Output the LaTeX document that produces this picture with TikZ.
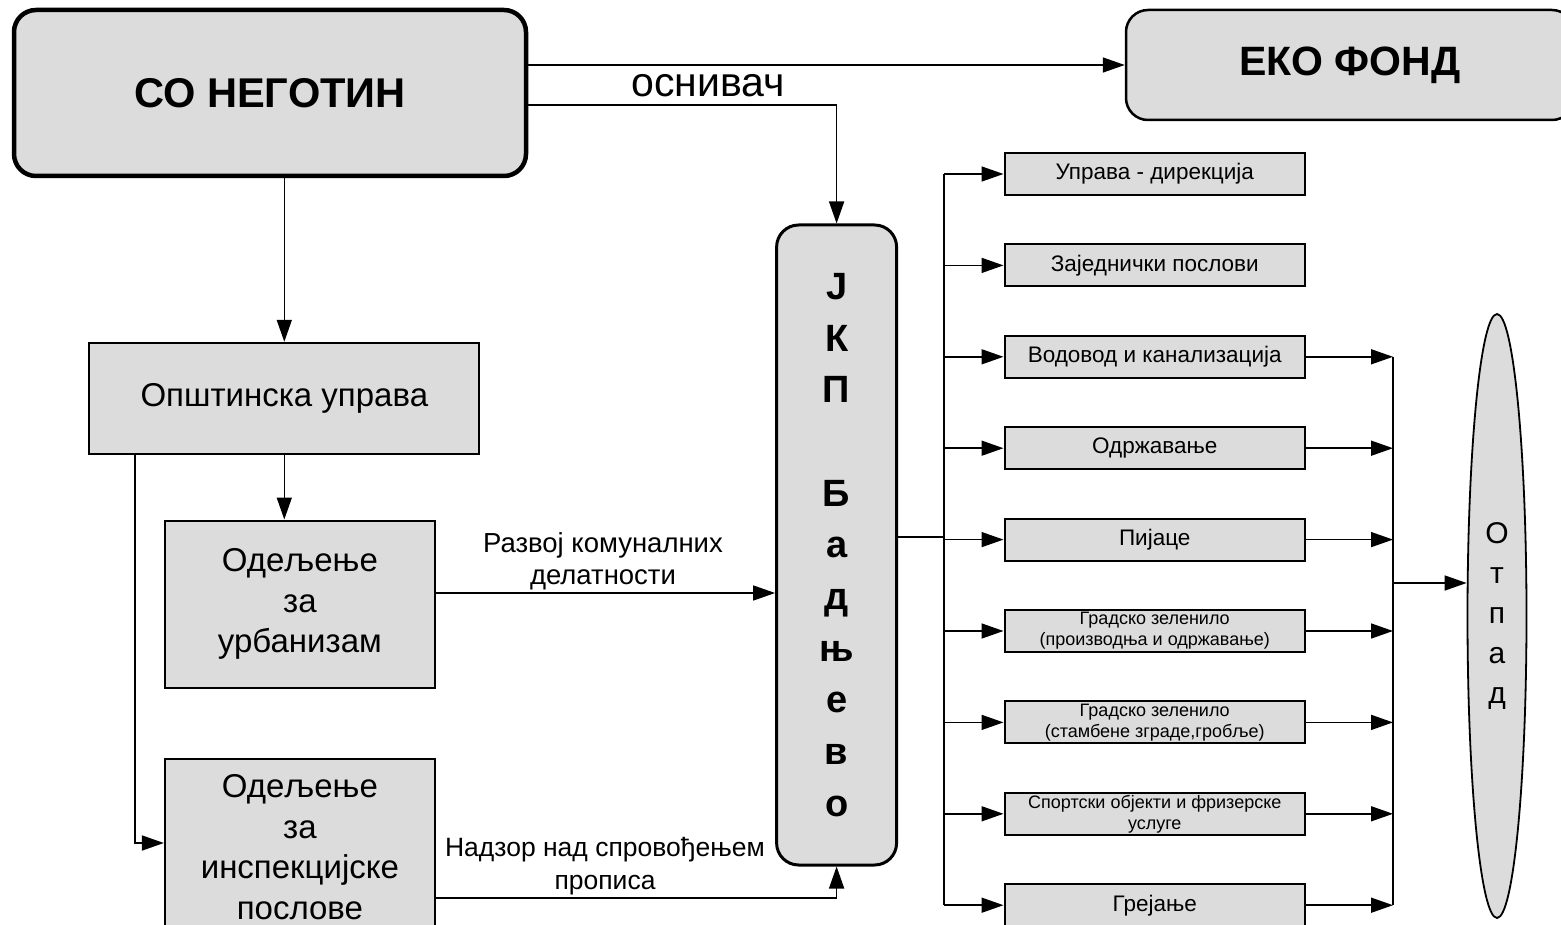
\documentclass[tikz,border=0pt]{standalone}
\usepackage{fontspec}
\setmainfont{Liberation Sans}
\usetikzlibrary{arrows.meta,shapes.geometric}
\definecolor{boxgray}{RGB}{220,220,220}

\begin{document}
\begin{tikzpicture}[x=1pt,y=1pt,yscale=-1,xscale=1,
  box/.style={draw,fill=boxgray,line width=2pt,inner sep=0pt,align=center},
  rbox/.style={box,rounded corners=22pt},
  unit/.style={box,minimum width=300.5pt,minimum height=42pt,font=\fontsize{22.5}{27}\selectfont},
  unitsmall/.style={unit,font=\fontsize{18}{21}\selectfont},
  dept/.style={box,minimum width=270pt,font=\fontsize{33}{40.5}\selectfont},
  label/.style={align=center,inner sep=0pt},
  arr/.style={line width=1.6pt,-{Triangle[length=22pt,width=15pt]}},
  conn/.style={line width=1.6pt}]
\useasboundingbox (0,0) rectangle (1561,925);
\clip (0,0) rectangle (1561,925);

%Shape: Rounded Rect [id:son]
\node (son) [rbox,line width=4.5pt,minimum width=512pt,minimum height=166pt,font=\fontsize{41.6}{50}\selectfont\bfseries] at (270,93) {СО НЕГОТИН};
%Shape: Rounded Rect [id:eko]
\node (eko) [rbox,line width=2.5pt,minimum width=448pt,minimum height=110pt,font=\fontsize{41}{50}\selectfont\bfseries] at (1350,65) {ЕКО ФОНД};
%Shape: Rounded Rect [id:jkp]
\node (jkp) [rbox,line width=3pt,minimum width=120pt,minimum height=640pt,font=\fontsize{38}{51.7}\selectfont\bfseries] at (836.6,545) {Ј\\К\\П\\[51.7pt]Б\\а\\д\\њ\\е\\в\\о};

%Shape: Rectangle [id:opu]
\node (opu) [box,minimum width=390pt,minimum height=111pt,font=\fontsize{33}{40}\selectfont] at (284.3,398.3) {Општинска управа};
\node (urb) [dept,minimum height=167pt] at (299.9,604) {Одељење\\за\\урбанизам};
\node (insp) [dept,minimum height=176pt] at (299.9,847) {Одељење\\за\\инспекцијске\\послове};

%Shape: Ellipse [id:otp]
\node (otp) [ellipse,draw,fill=boxgray,line width=1.8pt,inner sep=0pt,minimum width=59pt,minimum height=604pt,align=center,font=\fontsize{30}{40}\selectfont] at (1497,616) {О\\т\\п\\а\\д};

%Right column
\node (u1) [unit] at (1154.75,174) {Управа - дирекција};
\node (u2) [unit] at (1154.75,265.4) {Заједнички послови};
\node (u3) [unit] at (1154.75,356.8) {Водовод и канализација};
\node (u4) [unit] at (1154.75,448.2) {Одржавање};
\node (u5) [unit] at (1154.75,539.6) {Пијаце};
\node (u6) [unitsmall] at (1154.75,631) {Градско зеленило\\(производња и одржавање)};
\node (u7) [unitsmall] at (1154.75,722.4) {Градско зеленило\\(стамбене зграде,гробље)};
\node (u8) [unitsmall] at (1154.75,813.8) {Спортски објекти и фризерске\\услуге};
\node (u9) [unit] at (1154.75,905.2) {Грејање};

% Text Node
\node (osn) [label,font=\fontsize{41}{48}\selectfont] at (708,86) {оснивач};
% Text Node
\node (razv) [label,font=\fontsize{27.5}{32}\selectfont] at (603,561) {Развој комуналних\\делатности};
% Text Node
\node (nadz) [label,font=\fontsize{26.5}{33}\selectfont] at (605,866) {Надзор над спровођењем\\прописа};

\coordinate (sontap) at (0,105);
\coordinate (urbtap) at (0,593);
\coordinate (insptap) at (135,843);
\coordinate (insptap2) at (0,898);
\coordinate (tap) at (944,537);
\coordinate (lbusT) at (944,174);
\coordinate (lbusB) at (944,905.2);
\coordinate (rbusT) at (1393,356.8);
\coordinate (rbusB) at (1393,905.2);
\coordinate (otpin) at (1393,583);

%Straight Lines
\draw [arr] (son.east |- eko.west) -- (eko.west);
\draw [arr] (son.east |- sontap) -| (jkp.north);
\draw [arr] (opu.north |- son.south) -- (opu.north);
\draw [arr] (opu.south) -- (opu.south |- urb.north);
\draw [arr] (opu.south -| insptap) -- (insptap) -- (insptap -| insp.west);
\draw [arr] (urb.east |- urbtap) -- (jkp.west |- urbtap);
\draw [arr] (insp.east |- insptap2) -| (jkp.south);

%Left bus
\draw [conn] (tap -| jkp.east) -- (tap);
\draw [conn] (lbusT) -- (lbusB);
\draw [arr] (u1.west -| lbusT) -- (u1.west);
\draw [arr] (u2.west -| lbusT) -- (u2.west);
\draw [arr] (u3.west -| lbusT) -- (u3.west);
\draw [arr] (u4.west -| lbusT) -- (u4.west);
\draw [arr] (u5.west -| lbusT) -- (u5.west);
\draw [arr] (u6.west -| lbusT) -- (u6.west);
\draw [arr] (u7.west -| lbusT) -- (u7.west);
\draw [arr] (u8.west -| lbusT) -- (u8.west);
\draw [arr] (u9.west -| lbusT) -- (u9.west);

%Right bus
\draw [conn] (rbusT) -- (rbusB);
\draw [arr] (u3.east) -- (u3.east -| rbusT);
\draw [arr] (u4.east) -- (u4.east -| rbusT);
\draw [arr] (u5.east) -- (u5.east -| rbusT);
\draw [arr] (u6.east) -- (u6.east -| rbusT);
\draw [arr] (u7.east) -- (u7.east -| rbusT);
\draw [arr] (u8.east) -- (u8.east -| rbusT);
\draw [arr] (u9.east) -- (u9.east -| rbusT);
\draw [arr] (otpin) -- (otpin -| otp.west);

\end{tikzpicture}
\end{document}
